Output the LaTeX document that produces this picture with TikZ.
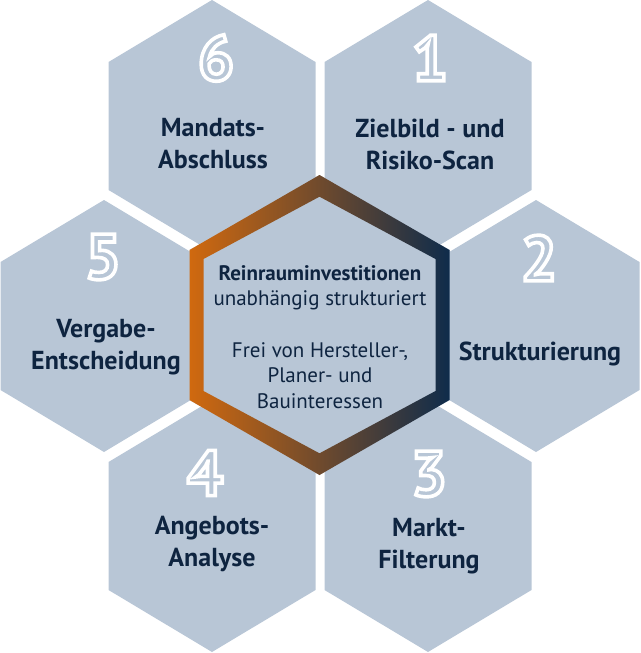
\documentclass[tikz,border=0pt]{standalone}
\usepackage{fontspec}
\setmainfont{PT Sans}
\definecolor{hexfill}{HTML}{B8C6D6}
\definecolor{navyend}{HTML}{0F2C4B}
\definecolor{orangeend}{HTML}{D0690F}
\definecolor{labeltext}{HTML}{0E2440}
\newcommand\hexat[5]{(#1,#2-#5) -- (#1+#3,#2-#4) -- (#1+#3,#2+#4) -- (#1,#2+#5) -- (#1-#3,#2+#4) -- (#1-#3,#2-#4) -- cycle}
\newcommand\outlinedigit[1]{\special{pdf:literal direct 1 Tr 3.6 w}#1\special{pdf:literal direct 0 Tr}}
\tikzset{
  hexcell/.style={fill=hexfill},
  steplabel/.style={text=labeltext, align=center, inner sep=0pt, font=\bfseries\fontsize{26}{32}\selectfont},
  centerlabel/.style={text=labeltext, align=center, inner sep=0pt, font=\fontsize{21}{25.6}\selectfont},
  stepnum/.style={text=white, inner sep=0pt, font=\bfseries\fontsize{64}{64}\selectfont}
}
\begin{document}
\begin{tikzpicture}[x=1pt,y=-1pt]
\useasboundingbox (0,0) rectangle (640,653);
% outer hexagons
\fill[hexcell] \hexat{212}{126}{103.5}{64}{126};
\fill[hexcell] \hexat{428}{126}{103.5}{64}{126};
\fill[hexcell] \hexat{104}{326}{103.5}{64}{126};
\fill[hexcell] \hexat{536}{326}{103.5}{64}{126};
\fill[hexcell] \hexat{212}{526}{103.5}{64}{126};
\fill[hexcell] \hexat{428}{526}{103.5}{64}{126};
% central hexagon
\fill[hexcell] \hexat{319.5}{325}{130}{75}{150};
\shade[left color=orangeend, right color=navyend, even odd rule]
  \hexat{319.5}{325}{130}{75}{150} \hexat{319.5}{325}{116}{66}{128.3};
% labels
\node[steplabel] (l6) at (213,144) {Mandats-\\Abschluss};
\node[steplabel] (l1) at (430,144) {Zielbild - und\\Risiko-Scan};
\node[steplabel] (l5) at (106,347) {Vergabe-\\Entscheidung};
\node[steplabel] (l2) at (540,354) {Strukturierung};
\node[steplabel] (l4) at (212,544) {Angebots-\\Analyse};
\node[steplabel] (l3) at (429,546) {Markt-\\Filterung};
\node[centerlabel] (lc) at (320,337) {\textbf{Reinrauminvestitionen}\\unabhängig strukturiert\\[25.6pt]Frei von Hersteller-,\\Planer- und\\Bauinteressen};
% numbers
\node[stepnum] (n6) at (216,58) {\outlinedigit{6}};
\node[stepnum] (n1) at (430,58) {\outlinedigit{1}};
\node[stepnum] (n5) at (103,257) {\outlinedigit{5}};
\node[stepnum] (n2) at (539,258) {\outlinedigit{2}};
\node[stepnum] (n4) at (205,473) {\outlinedigit{4}};
\node[stepnum] (n3) at (429,474) {\outlinedigit{3}};
\end{tikzpicture}
\end{document}
